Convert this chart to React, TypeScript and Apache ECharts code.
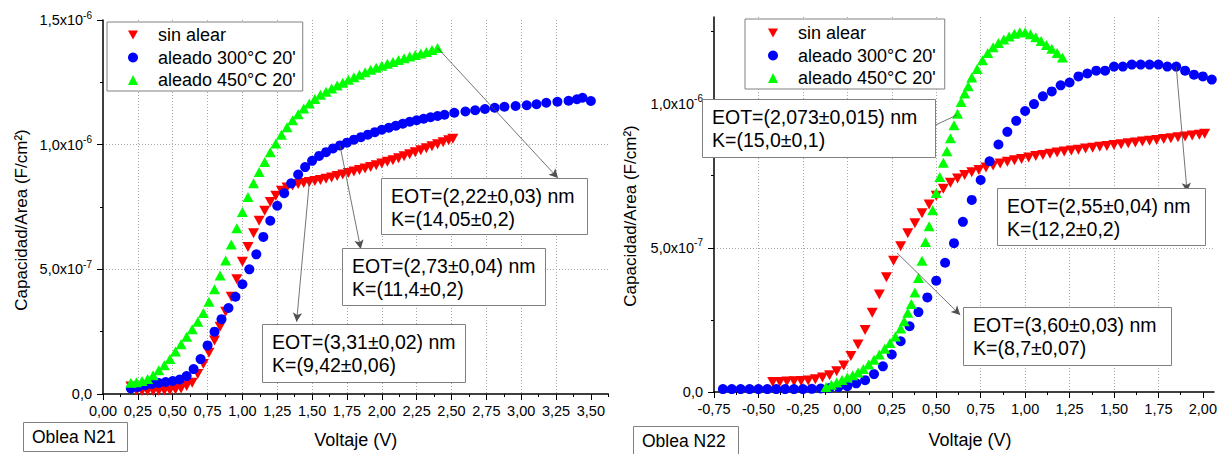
import React, { useEffect, useRef } from 'react';
import * as echarts from 'echarts';

const FONT = "'Liberation Sans', Arial, Helvetica, sans-serif";

// Legend / series names
const SERIES_NAMES = ['sin alear', "aleado 300°C 20'", "aleado 450°C 20'"];

// Capacitance values in units of 1e-7 F/cm², voltage in V
// ---- Oblea N21 ----
const n21SinAlear: number[][] = [
  [0.20, 0.30], [0.24, 0.15], [0.28, 0.12], [0.32, 0.12], [0.36, 0.12], [0.40, 0.13], [0.44, 0.14],
  [0.48, 0.15], [0.52, 0.18], [0.56, 0.22], [0.60, 0.32], [0.64, 0.45], [0.68, 0.8], [0.72, 1.2],
  [0.76, 1.65], [0.80, 2.15], [0.84, 2.7], [0.88, 3.3], [0.92, 3.9], [0.96, 4.6], [1.00, 5.3],
  [1.04, 5.9], [1.08, 6.45], [1.12, 6.95], [1.16, 7.35], [1.20, 7.7], [1.24, 7.95], [1.28, 8.15],
  [1.32, 8.28], [1.36, 8.36], [1.40, 8.42], [1.44, 8.46], [1.48, 8.5], [1.52, 8.54], [1.56, 8.58],
  [1.60, 8.63], [1.64, 8.68], [1.68, 8.74], [1.72, 8.8], [1.76, 8.86], [1.80, 8.92], [1.84, 8.98],
  [1.88, 9.04], [1.92, 9.1], [1.96, 9.17], [2.00, 9.24], [2.04, 9.31], [2.08, 9.38], [2.12, 9.46],
  [2.16, 9.54], [2.20, 9.62], [2.24, 9.7], [2.28, 9.78], [2.32, 9.86], [2.36, 9.94], [2.40, 10.02],
  [2.44, 10.1], [2.48, 10.18], [2.51, 10.24],
];
const n21Aleado300: number[][] = [
  [0.20, 0.22], [0.25, 0.28], [0.30, 0.35], [0.35, 0.4], [0.40, 0.44], [0.45, 0.48], [0.50, 0.52],
  [0.55, 0.58], [0.60, 0.72], [0.65, 1.0], [0.70, 1.4], [0.75, 1.95], [0.80, 2.5], [0.85, 3.0],
  [0.90, 3.45], [0.95, 3.9], [1.00, 4.4], [1.05, 5.0], [1.10, 5.6], [1.15, 6.3], [1.20, 6.95],
  [1.25, 7.55], [1.30, 8.05], [1.35, 8.45], [1.40, 8.8], [1.45, 9.1], [1.50, 9.35], [1.55, 9.55],
  [1.60, 9.7], [1.65, 9.85], [1.70, 9.97], [1.75, 10.08], [1.80, 10.2], [1.85, 10.3], [1.90, 10.4],
  [1.95, 10.5], [2.00, 10.6], [2.05, 10.68], [2.10, 10.76], [2.15, 10.84], [2.20, 10.92], [2.25, 10.98],
  [2.30, 11.04], [2.35, 11.1], [2.40, 11.15], [2.45, 11.2], [2.52, 11.28], [2.60, 11.33], [2.67, 11.38],
  [2.74, 11.43], [2.81, 11.48], [2.88, 11.52], [2.96, 11.55], [3.04, 11.58], [3.11, 11.62], [3.18, 11.68],
  [3.26, 11.72], [3.34, 11.76], [3.40, 11.82], [3.44, 11.88], [3.50, 11.75],
];
const n21Aleado450: number[][] = [
  [0.20, 0.45], [0.24, 0.47], [0.28, 0.52], [0.32, 0.6], [0.36, 0.75], [0.40, 0.95], [0.44, 1.15],
  [0.48, 1.4], [0.52, 1.7], [0.56, 2.0], [0.60, 2.3], [0.64, 2.6], [0.68, 2.9], [0.72, 3.25],
  [0.76, 3.7], [0.80, 4.2], [0.84, 4.75], [0.88, 5.35], [0.92, 6.0], [0.96, 6.65], [1.00, 7.3],
  [1.04, 7.9], [1.08, 8.45], [1.12, 8.9], [1.16, 9.3], [1.20, 9.7], [1.24, 10.05], [1.28, 10.4],
  [1.32, 10.7], [1.36, 10.98], [1.40, 11.22], [1.44, 11.45], [1.48, 11.65], [1.52, 11.83], [1.56, 12.0],
  [1.60, 12.12], [1.64, 12.25], [1.68, 12.37], [1.72, 12.48], [1.76, 12.6], [1.80, 12.7], [1.84, 12.8],
  [1.88, 12.9], [1.92, 13.0], [1.96, 13.08], [2.00, 13.17], [2.04, 13.25], [2.08, 13.32], [2.12, 13.4],
  [2.16, 13.47], [2.20, 13.54], [2.24, 13.6], [2.28, 13.66], [2.32, 13.72], [2.36, 13.8], [2.40, 13.88],
];

// ---- Oblea N22 ----
const n22SinAlear: number[][] = [
  [-0.42, 0.35], [-0.38, 0.35], [-0.34, 0.36], [-0.30, 0.37], [-0.26, 0.38], [-0.22, 0.4], [-0.18, 0.44],
  [-0.14, 0.5], [-0.10, 0.58], [-0.06, 0.72], [-0.02, 0.92], [0.02, 1.25], [0.06, 1.65], [0.10, 2.15],
  [0.14, 2.75], [0.18, 3.38], [0.22, 3.98], [0.26, 4.55], [0.30, 5.05], [0.34, 5.5], [0.38, 5.85],
  [0.42, 6.2], [0.46, 6.5], [0.50, 6.8], [0.54, 7.05], [0.58, 7.25], [0.62, 7.4], [0.66, 7.52],
  [0.70, 7.62], [0.74, 7.7], [0.78, 7.78], [0.82, 7.85], [0.86, 7.92], [0.90, 7.98], [0.94, 8.03],
  [0.98, 8.08], [1.02, 8.13], [1.06, 8.18], [1.10, 8.22], [1.14, 8.26], [1.18, 8.3], [1.22, 8.34],
  [1.26, 8.37], [1.30, 8.4], [1.34, 8.44], [1.38, 8.47], [1.42, 8.5], [1.46, 8.53], [1.50, 8.56],
  [1.54, 8.59], [1.58, 8.62], [1.62, 8.65], [1.66, 8.68], [1.70, 8.71], [1.74, 8.74], [1.78, 8.77],
  [1.82, 8.8], [1.86, 8.83], [1.90, 8.86], [1.94, 8.89], [1.98, 8.92], [2.01, 8.95],
];
const n22Aleado300: number[][] = [
  [-0.70, 0.1], [-0.65, 0.1], [-0.60, 0.1], [-0.55, 0.1], [-0.50, 0.1], [-0.45, 0.1], [-0.40, 0.1],
  [-0.35, 0.1], [-0.30, 0.1], [-0.25, 0.1], [-0.20, 0.11], [-0.15, 0.12], [-0.10, 0.14], [-0.05, 0.17],
  [0.00, 0.2], [0.05, 0.3], [0.10, 0.41], [0.15, 0.62], [0.20, 0.89], [0.25, 1.3], [0.30, 1.76],
  [0.35, 2.28], [0.40, 2.77], [0.45, 3.28], [0.50, 3.86], [0.55, 4.48], [0.60, 5.16], [0.65, 5.9],
  [0.70, 6.66], [0.75, 7.35], [0.80, 8.0], [0.85, 8.58], [0.90, 9.02], [0.95, 9.4], [1.00, 9.74],
  [1.05, 9.98], [1.10, 10.25], [1.15, 10.42], [1.20, 10.63], [1.25, 10.73], [1.30, 10.94], [1.35, 11.04],
  [1.40, 11.14], [1.45, 11.14], [1.50, 11.28], [1.55, 11.28], [1.60, 11.35], [1.65, 11.35], [1.70, 11.35],
  [1.75, 11.35], [1.80, 11.28], [1.85, 11.28], [1.90, 11.14], [1.95, 11.0], [2.00, 10.94], [2.05, 10.83],
];
const n22Aleado450: number[][] = [
  [-0.12, 0.17], [-0.09, 0.25], [-0.06, 0.33], [-0.03, 0.42], [0.00, 0.5], [0.03, 0.58], [0.06, 0.68],
  [0.09, 0.8], [0.12, 0.95], [0.15, 1.12], [0.18, 1.3], [0.21, 1.5], [0.24, 1.7], [0.27, 1.92],
  [0.30, 2.2], [0.32, 2.45], [0.34, 2.75], [0.36, 3.05], [0.38, 3.45], [0.40, 3.95], [0.42, 4.55],
  [0.44, 5.2], [0.46, 5.75], [0.48, 6.3], [0.50, 6.9], [0.52, 7.45], [0.54, 7.95], [0.56, 8.35],
  [0.58, 8.8], [0.60, 9.25], [0.62, 9.65], [0.64, 10.05], [0.66, 10.35], [0.68, 10.6], [0.70, 10.9],
  [0.73, 11.2], [0.76, 11.5], [0.79, 11.75], [0.82, 11.95], [0.85, 12.1], [0.88, 12.22], [0.91, 12.32],
  [0.94, 12.42], [0.97, 12.47], [1.00, 12.47], [1.03, 12.4], [1.06, 12.3], [1.09, 12.17], [1.12, 12.03],
  [1.15, 11.9], [1.18, 11.75], [1.21, 11.6],
];

// Tick values
const n21XTicks = [0, 0.25, 0.5, 0.75, 1, 1.25, 1.5, 1.75, 2, 2.25, 2.5, 2.75, 3, 3.25, 3.5];
const n21XMinor = [0.125, 0.375, 0.625, 0.875, 1.125, 1.375, 1.625, 1.875, 2.125, 2.375, 2.625, 2.875, 3.125, 3.375, 3.625];
const n21YTicks = [0, 5, 10, 15];
const n21YMinor = [2.5, 7.5, 12.5];
const n22XTicks = [-0.75, -0.5, -0.25, 0, 0.25, 0.5, 0.75, 1, 1.25, 1.5, 1.75, 2];
const n22XMinor = [-0.625, -0.375, -0.125, 0.125, 0.375, 0.625, 0.875, 1.125, 1.375, 1.625, 1.875];
const n22YTicks = [0, 5, 10];
const n22YMinor = [2.5, 7.5, 12.5];

// Annotation texts
const n21Notes = [
  ['EOT=(2,22±0,03) nm', 'K=(14,05±0,2)'],
  ['EOT=(2,73±0,04) nm', 'K=(11,4±0,2)'],
  ['EOT=(3,31±0,02) nm', 'K=(9,42±0,06)'],
];
const n22Notes = [
  ['EOT=(2,073±0,015) nm', 'K=(15,0±0,1)'],
  ['EOT=(2,55±0,04) nm', 'K=(12,2±0,2)'],
  ['EOT=(3,60±0,03) nm', 'K=(8,7±0,07)'],
];
const WAFER_LABELS = ['Oblea N21', 'Oblea N22'];

const fmtX = (v: number) => v.toFixed(2).replace('.', ',');
const fmtY = (v: number) => {
  if (v === 0) return '{b|0,0}';
  const big = v >= 10;
  const mant = (big ? v / 10 : v).toFixed(1).replace('.', ',');
  return `{b|${mant}x10}{s|${big ? -6 : -7}}`;
};

const BLACK = '#000';
const GRID_LINE = { show: true, showMinLine: false, showMaxLine: false, lineStyle: { type: [1, 2], color: '#a8a8a8', width: 1 } };
const DOWN_TRIANGLE = 'path://M0,0L10,0L5,9Z';

function mainX(grid: number, min: number, max: number, ticks: number[], nameGap: number, namePad: number[]) {
  return {
    gridIndex: grid, type: 'value', min, max, interval: 0.25,
    axisLine: { show: true, onZero: false, lineStyle: { color: BLACK, width: 1.5 } },
    axisTick: { show: true, customValues: ticks, length: 6, lineStyle: { color: BLACK, width: 1 } },
    axisLabel: { customValues: ticks, formatter: fmtX, margin: 9, fontSize: 14.5, color: BLACK, fontFamily: FONT },
    splitLine: GRID_LINE,
    name: 'Voltaje (V)', nameLocation: 'middle', nameGap,
    nameTextStyle: { fontSize: 18, color: BLACK, fontFamily: FONT, padding: namePad },
  };
}
function minorX(grid: number, min: number, max: number, ticks: number[]) {
  return {
    gridIndex: grid, type: 'value', min, max, position: 'bottom',
    axisLine: { show: false }, axisLabel: { show: false }, splitLine: { show: false },
    axisTick: { show: true, customValues: ticks, length: 3, lineStyle: { color: BLACK, width: 1 } },
  };
}
function mainY(grid: number, max: number, ticks: number[], nameGap: number, padRight: number) {
  return {
    gridIndex: grid, type: 'value', min: 0, max, interval: 5,
    axisLine: { show: true, onZero: false, lineStyle: { color: BLACK, width: 1.5 } },
    axisTick: { show: true, customValues: ticks, length: 6, lineStyle: { color: BLACK, width: 1 } },
    axisLabel: {
      customValues: ticks, formatter: fmtY, margin: 11, color: BLACK,
      rich: {
        b: { fontSize: 14.5, fontFamily: FONT, color: BLACK, lineHeight: 20 },
        s: { fontSize: 10, fontFamily: FONT, color: BLACK, lineHeight: 10, verticalAlign: 'top' },
      },
    },
    splitLine: GRID_LINE,
    name: 'Capacidad/Area (F/cm²)', nameLocation: 'middle', nameRotate: 90, nameGap,
    nameTextStyle: { fontSize: 17, color: BLACK, fontFamily: FONT, padding: [0, padRight, 0, 0] },
  };
}
function minorY(grid: number, max: number, ticks: number[]) {
  return {
    gridIndex: grid, type: 'value', min: 0, max, position: 'left',
    axisLine: { show: false, onZero: false }, axisLabel: { show: false }, splitLine: { show: false },
    axisTick: { show: true, customValues: ticks, length: 3, lineStyle: { color: BLACK, width: 1 } },
  };
}

function dataSeries(xi: number, yi: number, sets: number[][][]) {
  const styles = [
    { symbol: 'triangle', symbolRotate: 180, symbolSize: [11, 10], color: '#ff0000' },
    { symbol: 'circle', symbolRotate: 0, symbolSize: 10, color: '#0000ff' },
    { symbol: 'triangle', symbolRotate: 0, symbolSize: [11, 10], color: '#00ff00' },
  ];
  return sets.map((d, i) => ({
    type: 'scatter', name: SERIES_NAMES[i], xAxisIndex: xi, yAxisIndex: yi, data: d,
    symbol: styles[i].symbol, symbolRotate: styles[i].symbolRotate, symbolSize: styles[i].symbolSize,
    itemStyle: { color: styles[i].color, opacity: 1 }, silent: true, emphasis: { disabled: true }, z: 2 + i,
  }));
}

function arrowSeries(xi: number, yi: number, lines: number[][][]) {
  return {
    type: 'scatter', name: 'arrows-' + xi, xAxisIndex: xi, yAxisIndex: yi, data: [], silent: true, z: 10,
    markLine: {
      silent: true, symbol: ['none', 'arrow'], symbolSize: [7, 9], animation: false,
      label: { show: false }, emphasis: { disabled: true },
      lineStyle: { color: '#505050', width: 0.8, type: 'solid' },
      itemStyle: { color: '#222' },
      data: lines.map(([a, b]) => [{ coord: a }, { coord: b }]),
    },
  };
}

function noteBox(lines: string[], x: number, y: number, w: number, h: number) {
  return [
    { type: 'rect', z: 8, shape: { x: x + 0.5, y: y + 0.5, width: w, height: h }, style: { fill: '#fff', stroke: '#808080', lineWidth: 1 } },
    { type: 'text', z: 9, x: x + 10, y: y + 6, style: { text: lines.join('\n'), fontSize: 19.5, fontFamily: FONT, fill: BLACK, lineHeight: 23.5, verticalAlign: 'top' } },
  ];
}
function waferBox(label: string, x: number, y: number, w: number, h: number) {
  return [
    { type: 'rect', z: 8, shape: { x: x + 0.5, y: y + 0.5, width: w, height: h }, style: { fill: '#fff', stroke: '#808080', lineWidth: 1 } },
    { type: 'text', z: 9, x: x + 9, y: y + h / 2, style: { text: label, fontSize: 17.5, fontFamily: FONT, fill: BLACK, verticalAlign: 'middle' } },
  ];
}

function legend(left: number, top: number, padding: number[]) {
  return {
    left, top, orient: 'vertical', padding, itemWidth: 10, itemHeight: 10, itemGap: 0.5,
    borderColor: '#808080', borderWidth: 1, backgroundColor: '#fff', selectedMode: false,
    symbolKeepAspect: true,
    textStyle: { fontSize: 18, fontFamily: FONT, color: BLACK, lineHeight: 22, padding: [0, 0, 0, 15] },
    data: [
      { name: SERIES_NAMES[0], icon: DOWN_TRIANGLE },
      { name: SERIES_NAMES[1], icon: 'circle' },
      { name: SERIES_NAMES[2], icon: 'triangle' },
    ],
    z: 9,
  };
}

export default function App() {
  const ref = useRef<HTMLDivElement>(null);
  useEffect(() => {
    if (!ref.current) return;
    const chart = echarts.init(ref.current, null, { renderer: 'svg' });
    const option: any = {
      animation: false,
      backgroundColor: '#fff',
      textStyle: { fontFamily: FONT },
      grid: [
        { left: 103, top: 20, width: 505.3, height: 376, containLabel: false },
        { left: 714, top: 17, width: 502.6, height: 381, containLabel: false },
      ],
      xAxis: [
        mainX(0, 0, 3.625, n21XTicks, 37, [0, 0, 0, 0]),
        minorX(0, 0, 3.625, n21XMinor),
        mainX(1, -0.75, 2.0625, n22XTicks, 39, [0, 0, 0, 12]),
        minorX(1, -0.75, 2.0625, n22XMinor),
      ],
      yAxis: [
        mainY(0, 15, n21YTicks, 73, 26),
        minorY(0, 15, n21YMinor),
        mainY(1, 13, n22YTicks, 75, 23),
        minorY(1, 13, n22YMinor),
      ],
      legend: [legend(107, 22, [2, 7, 0, 21]), legend(745, 19, [3, 9, 0, 23])],
      series: [
        ...dataSeries(0, 0, [n21SinAlear, n21Aleado300, n21Aleado450]),
        ...dataSeries(2, 2, [n22SinAlear, n22Aleado300, n22Aleado450]),
        arrowSeries(0, 0, [
          [[2.40, 13.88], [3.264, 8.66]],
          [[1.70, 9.97], [1.849, 5.82]],
          [[1.48, 8.5], [1.389, 2.9]],
        ]),
        arrowSeries(2, 2, [
          [[0.615, 9.6], [0.426, 9.05]],
          [[1.85, 11.28], [1.911, 6.94]],
          [[0.28, 4.82], [0.635, 2.67]],
        ]),
      ],
      graphic: [
        ...noteBox(n21Notes[0], 381, 178, 206, 56),
        ...noteBox(n21Notes[1], 342, 248, 203, 57),
        ...noteBox(n21Notes[2], 262, 324, 203, 58),
        ...noteBox(n22Notes[0], 702, 99, 233, 58),
        ...noteBox(n22Notes[1], 997, 188, 208, 57),
        ...noteBox(n22Notes[2], 963, 307, 208, 58),
        ...waferBox(WAFER_LABELS[0], 23, 422, 104, 29),
        ...waferBox(WAFER_LABELS[1], 633, 426, 105, 30),
      ],
    };
    chart.setOption(option);
    return () => chart.dispose();
  }, []);
  return <div ref={ref} style={{ position: 'absolute', left: 0, top: 0, width: 1220, height: 454 }} />;
}
